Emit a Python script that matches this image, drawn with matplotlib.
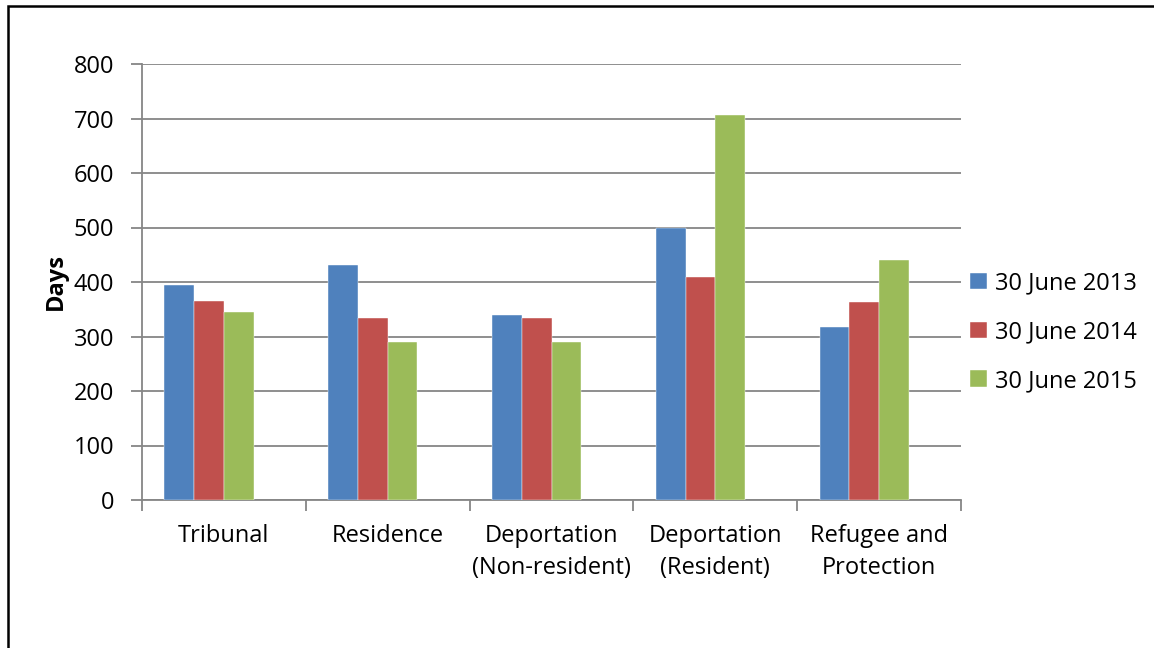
import matplotlib.pyplot as plt
import numpy as np
from matplotlib.patches import Rectangle

categories = ['Tribunal', 'Residence', 'Deportation\n(Non-resident)',
              'Deportation\n(Resident)', 'Refugee and\nProtection']
series = ['30 June 2013', '30 June 2014', '30 June 2015']
days_2013 = [395, 431, 340, 500, 318]
days_2014 = [365, 334, 334, 410, 364]
days_2015 = [345, 289, 289, 707, 441]
colors = ['#4F81BD', '#C0504D', '#9BBB59']

plt.rcParams['font.family'] = ['Open Sans', 'DejaVu Sans']
grey = '#868686'
fs = 17

fig = plt.figure(figsize=(11.54, 6.48), dpi=100)
ax = fig.add_axes([142/1154, 1 - 500/648, (961-142)/1154, (500-64)/648])

x = np.arange(len(categories))
w = 0.1816
# four slots per group, last one left empty
for i, (vals, lab, c) in enumerate(zip([days_2013, days_2014, days_2015], series, colors)):
    ax.bar(x + (i - 1.5) * w, vals, w, color=c, label=lab,
           edgecolor='white', linewidth=0.3, zorder=3)

ax.set_xlim(-0.5, len(categories) - 0.5)
ax.set_ylim(0, 800)
ax.set_yticks(range(0, 801, 100))
ax.yaxis.grid(True, color=grey, linewidth=1.3, zorder=0)
ax.set_xticks(x)
ax.set_xticklabels(categories, fontsize=fs, linespacing=1.45)
ax.set_xticks(np.arange(-0.5, len(categories)), minor=True)
ax.tick_params(axis='x', which='major', length=0, pad=17)
ax.tick_params(axis='x', which='minor', length=8, color=grey, width=1.3)
ax.tick_params(axis='y', length=8, color=grey, width=1.3, labelsize=fs, pad=12)
for s in ['top', 'right']:
    ax.spines[s].set_visible(False)
for s in ['left', 'bottom']:
    ax.spines[s].set_color(grey)
    ax.spines[s].set_linewidth(1.3)
ax.set_ylabel('Days', fontsize=fs, fontweight='bold', labelpad=4)

ax.legend(loc='center left', bbox_to_anchor=(1.0, 0.385), frameon=False,
          fontsize=fs, handlelength=0.7, handleheight=0.7,
          handletextpad=0.35, labelspacing=1.05, borderaxespad=0.0)

# outer frame
fig.patches.append(Rectangle((8/1154, -0.05), 1.1, 1.05 - 6/648,
                             transform=fig.transFigure, fill=False,
                             edgecolor='black', linewidth=1.8))

fig.savefig('out.png', dpi=100)
